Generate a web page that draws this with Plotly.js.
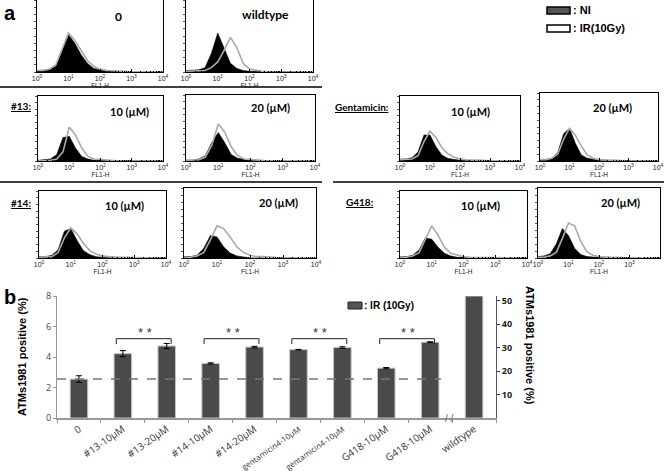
<!DOCTYPE html>
<html>
<head>
<meta charset="utf-8">
<script src="https://cdn.plot.ly/plotly-3.0.1.min.js"></script>
<style>body{margin:0;background:#fff}#chart{width:664px;height:471px}</style>
</head>
<body>
<div id="chart"></div>
<script>
// FL1-H bin centres (log spaced, 5 per decade)
var fl1Bins = [1, 1.58, 2.51, 3.98, 6.31, 10, 15.8, 25.1, 39.8, 63.1, 100, 158, 251, 398, 631, 1000, 1585, 2512, 3981, 6310, 10000];
var decadeLabels = ['10<sup>0</sup>', '10<sup>1</sup>', '10<sup>2</sup>', '10<sup>3</sup>', '10<sup>4</sup>'];

// counts, % of panel height; ni = not irradiated (black), ir = 10Gy (grey)
var niZero      = [2, 2, 3, 8, 30, 52, 40, 24, 12, 5, 3, 2, 1, 1, 0, 0, 0, 0, 0, 0, 0];
var irZero      = [2, 2, 4, 10, 32, 54, 44, 30, 16, 8, 4, 2, 2, 1, 1, 0, 0, 0, 0, 0, 0];
var niWildtype  = [2, 2, 3, 6, 26, 54, 32, 12, 5, 2, 1, 1, 0, 0, 0, 0, 0, 0, 0, 0, 0];
var irWildtype  = [1, 1, 1, 2, 6, 14, 30, 48, 34, 12, 4, 2, 1, 0, 0, 0, 0, 0, 0, 0, 0];
var ni13lo      = [1, 2, 3, 10, 36, 38, 20, 7, 3, 1, 1, 0, 0, 0, 0, 0, 0, 0, 0, 0, 0];
var ir13lo      = [0, 0, 1, 3, 14, 52, 40, 20, 7, 3, 2, 1, 1, 0, 0, 0, 0, 0, 0, 0, 0];
var ni13hi      = [1, 1, 3, 8, 28, 43, 28, 10, 4, 2, 1, 1, 0, 0, 0, 0, 0, 0, 0, 0, 0];
var ir13hi      = [1, 1, 2, 6, 24, 56, 44, 22, 8, 3, 2, 1, 1, 0, 0, 0, 0, 0, 0, 0, 0];
var niGentLo    = [3, 3, 5, 14, 40, 40, 22, 9, 4, 2, 1, 1, 0, 0, 0, 0, 0, 0, 0, 0, 0];
var irGentLo    = [2, 2, 3, 8, 30, 46, 36, 20, 11, 6, 3, 2, 2, 1, 1, 0, 0, 0, 0, 0, 0];
var niGentHi    = [2, 2, 4, 12, 40, 48, 26, 9, 4, 2, 1, 1, 1, 0, 0, 0, 0, 0, 0, 0, 0];
var irGentHi    = [2, 2, 4, 10, 32, 48, 38, 22, 9, 4, 2, 1, 1, 1, 0, 0, 0, 0, 0, 0, 0];
var ni14lo      = [2, 2, 4, 12, 40, 44, 26, 11, 5, 2, 1, 0, 0, 0, 0, 0, 0, 0, 0, 0, 0];
var ir14lo      = [1, 1, 2, 8, 30, 45, 36, 22, 11, 6, 3, 2, 1, 1, 1, 0, 0, 0, 0, 0, 0];
var ni14hi      = [2, 2, 4, 14, 32, 30, 16, 7, 3, 1, 0, 0, 0, 0, 0, 0, 0, 0, 0, 0, 0];
var ir14hi      = [1, 1, 3, 8, 26, 46, 42, 30, 16, 8, 4, 2, 2, 1, 1, 0, 0, 0, 0, 0, 0];
var niG418lo    = [2, 2, 4, 12, 30, 28, 16, 7, 3, 1, 1, 0, 0, 0, 0, 0, 0, 0, 0, 0, 0];
var irG418lo    = [1, 1, 3, 8, 28, 48, 34, 16, 7, 4, 2, 1, 1, 1, 0, 0, 0, 0, 0, 0, 0];
var niG418hi    = [2, 3, 6, 20, 42, 32, 14, 5, 2, 1, 1, 0, 0, 0, 0, 0, 0, 0, 0, 0, 0];
var irG418hi    = [1, 1, 3, 8, 28, 50, 46, 24, 9, 4, 2, 1, 1, 1, 0, 0, 0, 0, 0, 0, 0];

var panelLabels = ['0', 'wildtype', '10 (µM)', '20 (µM)', '10 (µM)', '20 (µM)', '10 (µM)', '20 (µM)', '10 (µM)', '20 (µM)'];

// bar chart (panel b)
var barKeys = ['0', '13-10', '13-20', '14-10', '14-20', 'gen-10', 'gen-20', 'g418-10', 'g418-20', 'wildtype'];
var barLabels = ['0', '#13-10µM', '#13-20µM', '#14-10µM', '#14-20µM',
    '<span style="font-size:8px">gentamicin4-10µM</span>', '<span style="font-size:8px">gentamicin4-10µM</span>',
    'G418-10µM', 'G418-10µM', 'wildtype'];
var barValues = [2.55, 4.22, 4.72, 3.58, 4.65, 4.48, 4.62, 3.27, 4.97];
var barErrors = [0.22, 0.2, 0.17, 0.04, 0.05, 0.02, 0.05, 0.04, 0.03];
var wildtypeValue = 52;
var sigPairs = [[1, 2], [3, 4], [5, 6], [7, 8]];

var W = 664, H = 471;
var px = function (x) { return x / W; };
var py = function (y) { return 1 - y / H; };

var histNI = [niZero, niWildtype, ni13lo, ni13hi, niGentLo, niGentHi, ni14lo, ni14hi, niG418lo, niG418hi];
var histIR = [irZero, irWildtype, ir13lo, ir13hi, irGentLo, irGentHi, ir14lo, ir14hi, irG418lo, irG418hi];
// [left, top, right, bottom] in page pixels
var boxes = [[37, 0, 163, 72], [186, 0, 313, 72], [38, 96, 163, 161], [186, 95, 315, 161],
    [400, 96, 520, 161], [540, 93, 658, 161], [39, 191, 166, 258], [184, 188, 316, 258],
    [400, 191, 527, 258], [538, 188, 660, 258]];
var labelPos = [[118, 17], [265, 15], [129, 112], [270, 108], [470, 112], [612, 108],
    [124, 205], [278, 202], [480, 205], [620, 202]];

var minorVals = [];
for (var d = 1; d < 10000; d *= 10) {
    for (var m = 2; m < 10; m++) minorVals.push(d * m);
}

var data = [];
var annotations = [];
var shapes = [];
var layout = {
    width: W, height: H,
    margin: {l: 0, r: 0, t: 0, b: 0},
    paper_bgcolor: '#fff', plot_bgcolor: '#fff',
    showlegend: false,
    font: {family: 'Liberation Sans', color: '#000'}
};

var pageText = function (text, x, y, size, family, extra) {
    var a = {
        xref: 'paper', yref: 'paper', x: px(x), y: py(y), xanchor: 'center', yanchor: 'middle',
        text: text, showarrow: false, font: {family: family, size: size, color: '#000'}
    };
    for (var k in extra) a[k] = extra[k];
    annotations.push(a);
};

for (var i = 0; i < boxes.length; i++) {
    var n = i + 1, xa = 'x' + n, ya = 'y' + n, b = boxes[i];
    data.push({
        x: fl1Bins, y: histNI[i], xaxis: xa, yaxis: ya, type: 'scatter', mode: 'lines',
        line: {color: '#000', width: 0.6}, fill: 'tozeroy', fillcolor: '#000',
        hoverinfo: 'skip'
    });
    data.push({
        x: fl1Bins, y: histIR[i], xaxis: xa, yaxis: ya, type: 'scatter', mode: 'lines',
        line: {color: '#a9a9a9', width: 1.6}, hoverinfo: 'skip'
    });
    layout['xaxis' + n] = {
        type: 'log', domain: [px(b[0]), px(b[2])], anchor: ya, range: [0, 4],
        tickmode: 'array', tickvals: [1, 10, 100, 1000, 10000], ticktext: decadeLabels,
        ticks: 'inside', ticklen: 3, tickcolor: '#000',
        minor: {tickmode: 'array', tickvals: minorVals, ticks: 'inside', ticklen: 1.5, tickcolor: '#000', showgrid: false},
        showline: true, linecolor: '#000', linewidth: 1, mirror: true, showgrid: false, zeroline: false,
        tickfont: {size: 7, color: '#222'},
        title: {text: 'FL1-H', font: {size: 6.5, color: '#222'}, standoff: 0}
    };
    layout['yaxis' + n] = {
        domain: [py(b[3]), py(b[1])], anchor: xa, range: [0, 100], dtick: 10,
        ticks: 'outside', ticklen: 2, tickcolor: '#555', showticklabels: false,
        showline: true, linecolor: '#000', linewidth: 1, mirror: true, showgrid: false, zeroline: false
    };
    pageText('<b>' + panelLabels[i] + '</b>', labelPos[i][0], labelPos[i][1], i < 2 ? 12 : 11, 'Lato');
}

// bars
data.push({
    x: barKeys.slice(0, barValues.length), y: barValues, xaxis: 'x11', yaxis: 'y11', type: 'bar', width: 0.4,
    marker: {color: '#4a4a4a', line: {color: '#c4c4c4', width: 1}},
    error_y: {type: 'data', array: barErrors, color: '#000', thickness: 1, width: 3},
    hoverinfo: 'skip'
});
data.push({
    x: ['wildtype'], y: [wildtypeValue], xaxis: 'x11', yaxis: 'y12', type: 'bar', width: 0.4,
    marker: {color: '#4a4a4a', line: {color: '#c4c4c4', width: 1}},
    hoverinfo: 'skip'
});

layout.xaxis11 = {
    type: 'category', domain: [px(57), px(496)], anchor: 'y11',
    categoryorder: 'array', categoryarray: barKeys, range: [-0.5, 9.5],
    tickmode: 'array', tickvals: barKeys, ticktext: barLabels, tickangle: -35,
    ticks: 'outside', tickson: 'boundaries', ticklen: 3, tickcolor: '#999',
    showline: true, linecolor: '#999', linewidth: 1.5, showgrid: false, zeroline: false,
    tickfont: {family: 'Open Sans', size: 10, color: '#333'}
};
layout.yaxis11 = {
    domain: [py(418), py(296)], anchor: 'x11', range: [0, 8], dtick: 2,
    ticks: 'outside', ticklen: 3, tickcolor: '#999',
    showline: true, linecolor: '#999', linewidth: 1, showgrid: false, zeroline: false,
    tickfont: {family: 'Open Sans', size: 9, color: '#444'}
};
layout.yaxis12 = {
    overlaying: 'y11', side: 'right', anchor: 'x11', range: [0, 52],
    tickmode: 'array', tickvals: [10, 20, 30, 40, 50],
    ticks: 'outside', ticklen: 3, tickcolor: '#333',
    showline: true, linecolor: '#555', linewidth: 1, showgrid: false, zeroline: false,
    tickfont: {family: 'Open Sans', size: 9, color: '#222', weight: 'bold'}
};

// control baseline
shapes.push({
    type: 'line', xref: 'x11', yref: 'y11', x0: -0.5, x1: 8.25, y0: barValues[0], y1: barValues[0],
    line: {color: '#777', width: 1.5, dash: 'dash'}
});

// significance brackets
var bracketTop = 5.2, bracketFoot = 4.85;
sigPairs.forEach(function (p) {
    var a = p[0] - 0.15, c = p[1] + 0.1;
    shapes.push({type: 'line', xref: 'x11', yref: 'y11', x0: a, x1: a, y0: bracketFoot, y1: bracketTop, line: {color: '#222', width: 1}});
    shapes.push({type: 'line', xref: 'x11', yref: 'y11', x0: a, x1: c, y0: bracketTop, y1: bracketTop, line: {color: '#222', width: 1}});
    shapes.push({type: 'line', xref: 'x11', yref: 'y11', x0: c, x1: c, y0: bracketFoot, y1: bracketTop, line: {color: '#222', width: 1}});
    annotations.push({
        xref: 'x11', yref: 'y11', x: (p[0] + p[1]) / 2, y: bracketTop, yanchor: 'bottom', yshift: -3,
        text: '* *', showarrow: false, font: {family: 'Liberation Sans', size: 13, color: '#333'}
    });
});

// axis break
annotations.push({
    xref: 'x11', yref: 'y11', x: 8.45, y: 0, text: '/ /', showarrow: false,
    font: {family: 'Liberation Sans', size: 10, color: '#666'}
});

// section separators
shapes.push({type: 'line', xref: 'paper', yref: 'paper', x0: 0, x1: px(322), y0: py(87), y1: py(87), line: {color: '#000', width: 1.5}});
shapes.push({type: 'line', xref: 'paper', yref: 'paper', x0: 0, x1: px(322), y0: py(182), y1: py(182), line: {color: '#000', width: 1.5}});
shapes.push({type: 'line', xref: 'paper', yref: 'paper', x0: px(333), x1: 1, y0: py(182), y1: py(182), line: {color: '#000', width: 1.5}});

// legends
shapes.push({type: 'rect', xref: 'paper', yref: 'paper', x0: px(547), x1: px(570), y0: py(14), y1: py(7), fillcolor: '#555', line: {color: '#000', width: 1.5}});
shapes.push({type: 'rect', xref: 'paper', yref: 'paper', x0: px(547), x1: px(570), y0: py(32), y1: py(25), fillcolor: '#fff', line: {color: '#000', width: 1.5}});
shapes.push({type: 'rect', xref: 'paper', yref: 'paper', x0: px(348), x1: px(362), y0: py(309), y1: py(302), fillcolor: '#555', line: {color: '#222', width: 1}});

pageText('<b>: NI</b>', 571, 10, 11, 'Liberation Sans', {xanchor: 'left'});
pageText('<b>: IR(10Gy)</b>', 571, 28, 11, 'Liberation Sans', {xanchor: 'left'});
pageText('<b>: IR (10Gy)</b>', 362, 305, 10, 'Liberation Sans', {xanchor: 'left'});
pageText('<b>a</b>', 10, 13, 20, 'Liberation Sans');
pageText('<b>b</b>', 10, 297, 20, 'Liberation Sans');

var rowLabels = [['#13:', 21, 106], ['#14:', 21, 203], ['Gentamicin:', 362, 107], ['G418:', 360, 202]];
rowLabels.forEach(function (t) {
    pageText('<b><u>' + t[0] + '</u></b>', t[1], t[2], 10, 'Lato');
});

// y titles of panel b
pageText('<b>ATMs1981 positive (%)</b>', 22, 357, 11, 'Liberation Sans', {textangle: -90});
pageText('<b>ATMs1981 positive (%)</b>', 530, 345, 11, 'Liberation Sans', {textangle: 90});

layout.annotations = annotations;
layout.shapes = shapes;

Plotly.newPlot('chart', data, layout, {displayModeBar: false, staticPlot: true});
</script>
</body>
</html>
